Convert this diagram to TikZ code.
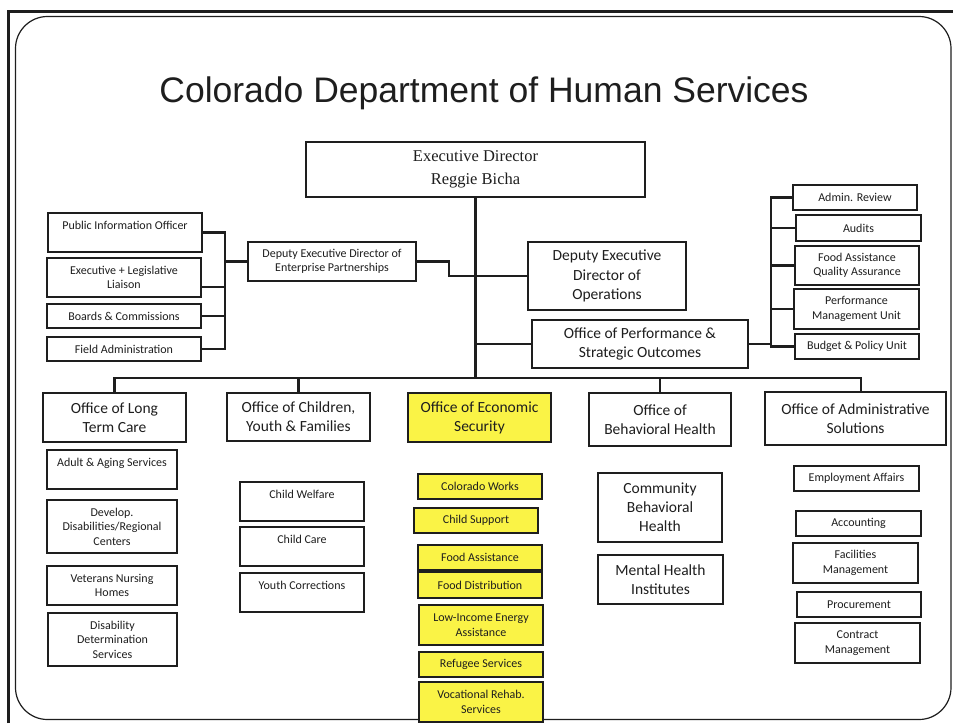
\documentclass[tikz,border=0pt]{standalone}
\usepackage{fontspec}
\setmainfont{Carlito}
\newfontfamily\titlefont{Liberation Sans}
\newfontfamily\execfont{Liberation Serif}
\definecolor{ylw}{RGB}{250,243,70}
\definecolor{ink}{RGB}{30,30,30}
\newcommand\bx[7]{\node[#1,minimum width={(#4)-(#2)},minimum height={(#5)-(#3)}] (#6) at ({((#2)+(#4))/2},{((#3)+(#5))/2}) {#7};}
\begin{document}
\begin{tikzpicture}[x=1pt,y=-1pt,
  base/.style={draw=ink,line width=1.1pt,fill=white,inner sep=1pt,align=center,text=ink},
  sbox/.style={base,font=\fontsize{12}{14.5}\selectfont},
  lbox/.style={base,font=\fontsize{15.5}{19.2}\selectfont},
  ybox/.style={sbox,fill=ylw},
  ylbox/.style={lbox,fill=ylw},
  ebox/.style={base,font=\execfont\fontsize{16.5}{23}\selectfont},
  conn/.style={draw=ink,line width=2.1pt}]
\useasboundingbox (0,0) rectangle (953,723);
% frame
\draw[ink,line width=2.6pt] (8.7,723) -- (8.7,11.3) -- (953,11.3);
\draw[ink,line width=1.2pt,rounded corners=32pt] (15.5,16.5) rectangle (951,719.5);
% title
\node[anchor=base,font=\titlefont\fontsize{35.5}{40}\selectfont,text=ink] (title) at (484,102) {Colorado Department of Human Services};
% top level
\bx{ebox}{306}{142}{645}{197}{exec}{Executive Director\\Reggie Bicha}
\bx{sbox}{248}{242}{416}{281}{ent}{Deputy Executive Director of\\Enterprise Partnerships}
\bx{lbox}{528}{242}{686}{310}{ops}{Deputy Executive\\Director of\\Operations}
\bx{lbox}{532}{320}{748}{368}{perf}{Office of Performance \&\\Strategic Outcomes}
% left staff
\bx{sbox}{48}{213}{202}{252}{pio}{Public Information Officer\\\mbox{}}
\bx{sbox}{47}{258}{201}{297}{ell}{Executive + Legislative\\Liaison}
\bx{sbox}{47}{304}{201}{328}{bc}{Boards \& Commissions}
\bx{sbox}{47}{337}{201}{361}{fa}{Field Administration}
% right staff
\bx{sbox}{793}{185}{917}{210}{adm}{Admin. Review}
\bx{sbox}{796}{215}{921}{241}{aud}{Audits}
\bx{sbox}{795}{246}{919}{285}{faqa}{Food Assistance\\Quality Assurance}
\bx{sbox}{794}{289}{919}{329}{pmu}{Performance\\Management Unit}
\bx{sbox}{795}{334}{919}{359}{bpu}{Budget \& Policy Unit}
% offices
\bx{lbox}{43}{393}{186}{442}{ltc}{Office of Long\\Term Care}
\bx{lbox}{227}{393}{370}{441}{cyf}{Office of Children,\\Youth \& Families}
\bx{ylbox}{408}{393}{551}{442}{es}{Office of Economic\\Security}
\bx{lbox}{589}{393}{731}{446}{bh}{Office of\\Behavioral Health}
\bx{lbox}{765}{392}{946}{445}{as}{Office of Administrative\\Solutions}
% long term care
\bx{sbox}{47}{450}{177}{489}{aas}{Adult \& Aging Services\\\mbox{}}
\bx{sbox}{47}{500}{177}{553}{dd}{Develop.\\Disabilities/Regional\\Centers}
\bx{sbox}{47}{566}{177}{605}{vnh}{Veterans Nursing\\Homes}
\bx{sbox}{48}{613}{177}{666}{ddd}{Disability\\Determination\\Services}
% children
\bx{sbox}{240}{482}{364}{521}{cw}{Child Welfare\\\mbox{}}
\bx{sbox}{240}{527}{364}{566}{cc}{Child Care\\\mbox{}}
\bx{sbox}{240}{573}{364}{612}{yc}{Youth Corrections\\\mbox{}}
% economic security
\bx{ybox}{418}{474}{542}{499}{cwk}{Colorado Works}
\bx{ybox}{414}{508}{538}{533}{cs}{Child Support}
\bx{ybox}{418}{545}{542}{570}{fda}{Food Assistance}
\bx{ybox}{418}{572}{542}{598}{fdd}{Food Distribution}
\bx{ybox}{419}{605}{543}{645}{lie}{Low-Income Energy\\Assistance}
\bx{ybox}{419}{652}{543}{677}{rs}{Refugee Services}
\bx{ybox}{419}{682}{543}{722}{vr}{Vocational Rehab.\\Services}
% behavioral health
\bx{lbox}{598}{473}{722}{542}{cbh}{Community\\Behavioral\\Health}
\bx{lbox}{598}{555}{723}{604}{mhi}{Mental Health\\Institutes}
% administrative solutions
\bx{sbox}{794}{466}{919}{491}{ea}{Employment Affairs}
\bx{sbox}{796}{511}{921}{536}{acc}{Accounting}
\bx{sbox}{793}{543}{918}{583}{fm}{Facilities\\Management}
\bx{sbox}{797}{592}{921}{617}{proc}{Procurement}
\bx{sbox}{795}{623}{920}{663}{cm}{Contract\\Management}
% connectors
\coordinate (bus) at (475.5,378);
\coordinate (jx) at (449,0);
\coordinate (lx) at (225,0);
\coordinate (rx) at (771,0);
\coordinate (asd) at (861,445);
\draw[conn] (exec.south) -- (bus);
\draw[conn] (ltc.north) |- (bus) -| (asd |- as.north);
\draw[conn] (cyf.north) -- (cyf.north |- bus);
\draw[conn] (bh.north) -- (bh.north |- bus);
\draw[conn] (ent.east) -- (ent.east -| jx) -- (jx |- ops.west) -- (ops.west);
\draw[conn] (perf.west) -- (perf.west -| exec.south);
\draw[conn] (perf.east) -- (perf.east -| rx);
\draw[conn] (adm.west) -- (adm.west -| rx) -- (rx |- bpu.west) -- (bpu.west);
\draw[conn] (aud.west) -- (aud.west -| rx);
\draw[conn] (faqa.west) -- (faqa.west -| rx);
\draw[conn] (pmu.west) -- (pmu.west -| rx);
\draw[conn] (pio.east) -- (pio.east -| lx) -- (lx |- fa.east) -- (fa.east);
\draw[conn] ([yshift=-9.5pt]ell.east) -- ([yshift=-9.5pt]ell.east -| lx);
\draw[conn] (bc.east) -- (bc.east -| lx);
\draw[conn] (ent.west) -- (ent.west -| lx);
\end{tikzpicture}
\end{document}
